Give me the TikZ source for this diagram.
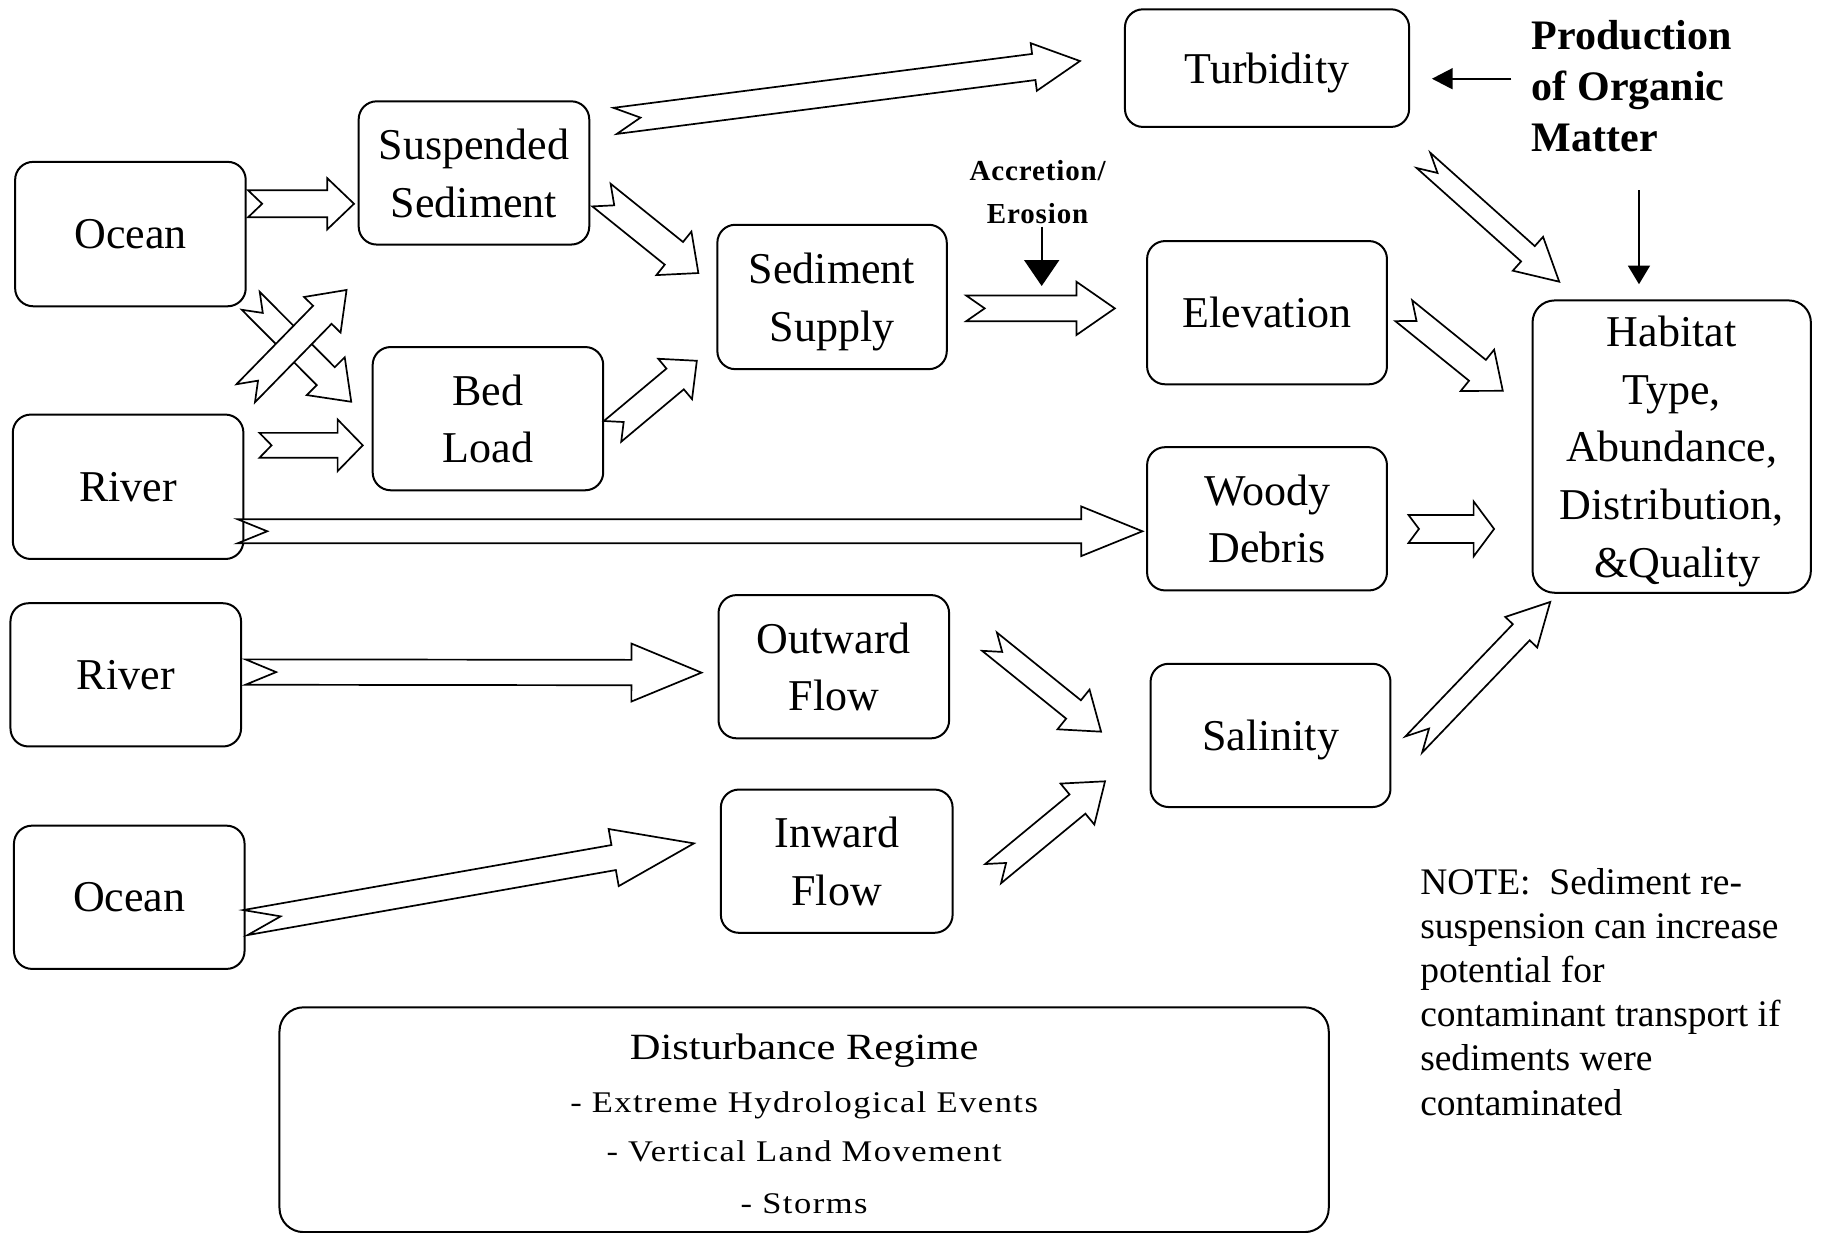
\documentclass[tikz,border=0pt]{standalone}
\usepackage{fontspec}
\setmainfont{Liberation Serif}
\newfontfamily\accfont{Liberation Serif}[LetterSpace=3]
\newfontfamily\distfont{Liberation Serif}[FakeStretch=1.15]
\newfontfamily\distitemfont{Liberation Serif}[FakeStretch=1.15,LetterSpace=5]
\usetikzlibrary{calc,arrows.meta}

% Notched block arrow from tail coordinate #1 to tip coordinate #2.
% #3 = shaft half width, #4 = head half width, #5 = head length (drawing units).
\newcommand{\notcharrow}[5]{%
  \path let \p1=(#1), \p2=(#2) in \pgfextra{%
    \pgfmathsetmacro\naAng{atan2(\y2-\y1,\x2-\x1)}%
    \pgfmathsetmacro\naLen{veclen(\x2-\x1,\y2-\y1)}%
    \pgfmathsetmacro\naW{#3*1.1645}%
    \pgfmathsetmacro\naH{#4*1.1645}%
    \pgfmathsetmacro\naB{\naLen-#5*1.1645}%
    \pgfmathsetmacro\naN{\naW*#5*1.1645/\naH}%
    \xdef\naAng{\naAng}\xdef\naLen{\naLen}\xdef\naW{\naW}%
    \xdef\naH{\naH}\xdef\naB{\naB}\xdef\naN{\naN}%
    \xdef\naX{\x1}\xdef\naY{\y1}};
  \draw[flowarrow, shift={(\naX,\naY)}, rotate=\naAng]
    (0pt,\naW pt) -- (\naB pt,\naW pt) -- (\naB pt,\naH pt) -- (\naLen pt,0pt)
    -- (\naB pt,-\naH pt) -- (\naB pt,-\naW pt) -- (0pt,-\naW pt) -- (\naN pt,0pt) -- cycle;
}

\tikzset{
  box/.style={draw, line width=2pt, rounded corners=18pt, fill=white, align=center,
    inner sep=0pt, text depth=0pt, font=\fontsize{44}{57.6}\selectfont},
  bsize/.style 2 args={minimum width=#1*1.1645pt, minimum height=#2*1.1645pt},
  flowarrow/.style={line width=1.7pt, fill=white, line join=miter},
  thinline/.style={line width=2pt},
  prodtext/.style={anchor=base west, inner sep=0pt, font=\bfseries\fontsize{42}{50}\selectfont},
  acctext/.style={anchor=base, inner sep=0pt, font=\accfont\bfseries\fontsize{29}{34}\selectfont},
  notetext/.style={anchor=base west, inner sep=0pt, font=\fontsize{37.5}{45}\selectfont},
  disttitle/.style={anchor=base, inner sep=0pt, font=\distfont\fontsize{37}{44}\selectfont},
  distitem/.style={anchor=base, inner sep=0pt, font=\distitemfont\fontsize{30}{36}\selectfont},
}

\begin{document}
\begin{tikzpicture}[x=1.1645pt, y=-1.1645pt]
\fill[white] (0,0) rectangle (1568,1058);
\useasboundingbox (0,0) rectangle (1568,1058);

% ---- boxes ----
\node[box, bsize={198}{124}] (ocA) at (112,201) {Ocean};
\node[box, bsize={198}{123}] (susp) at (407,148.5) {Suspended\\Sediment};
\node[box, bsize={198}{123}] (bed) at (419,359.5) {Bed\\Load};
\node[box, bsize={198}{124}] (rivA) at (110,418) {River};
\node[box, bsize={197}{124}] (supply) at (714.5,255) {Sediment\\Supply};
\node[box, bsize={244}{101}] (turb) at (1088,58.5) {Turbidity};
\node[box, bsize={206}{123}] (elev) at (1088,268.5) {Elevation};
\node[box, bsize={206}{123}] (woody) at (1088,445.5) {Woody\\Debris};
\node[box, bsize={239}{251}, rounded corners=22pt] (hab) at (1435.5,383.5)
  {Habitat\\Type,\\Abundance,\\Distribution,\\\ \&Quality};
\node[box, bsize={198}{123}] (rivB) at (108,579.5) {River};
\node[box, bsize={198}{123}] (outw) at (716,572.5) {Outward\\Flow};
\node[box, bsize={206}{123}] (sal) at (1091,631.5) {Salinity};
\node[box, bsize={198}{123}] (ocB) at (111,770.5) {Ocean};
\node[box, bsize={199}{123}] (inw) at (718.5,739.5) {Inward\\Flow};
\node[box, bsize={901}{193}, rounded corners=24pt] (dist) at (690.5,961.5) {};

% ---- disturbance text ----
\node[disttitle] (distT) at (690.5,909.4) {Disturbance Regime};
\node[distitem] (distA) at (690.5,955.5) {- Extreme Hydrological Events};
\node[distitem] (distB) at (690.5,997.6) {- Vertical Land Movement};
\node[distitem] (distC) at (690.5,1041.7) {- Storms};

% ---- free labels ----
\node[prodtext] (prodA) at (1315.3,42.9) {Production};
\node[prodtext] (prodB) at (1315.3,85.9) {of Organic};
\node[prodtext] (prodC) at (1315.3,130.2) {Matter};
\node[acctext] (accA) at (891,154.6) {Accretion/};
\node[acctext] (accB) at (891,191.8) {Erosion};

\node[notetext] (noteA) at (1219.4,767.7) {NOTE:\ \ Sediment re-};
\node[notetext] (noteB) at (1219.4,805.8) {suspension can increase};
\node[notetext] (noteC) at (1219.4,843.5) {potential for};
\node[notetext] (noteD) at (1219.4,881.7) {contaminant transport if};
\node[notetext] (noteE) at (1219.4,919.5) {sediments were};
\node[notetext] (noteF) at (1219.4,957.5) {contaminated};

% ---- arrow end points ----
\coordinate (a1s) at (213,175);      \coordinate (a1e) at (304,175);
\coordinate (a2s) at (528.2,103.8);  \coordinate (a2e) at (927.4,52.4);
\coordinate (a3s) at (516.5,167.5);  \coordinate (a3e) at (600,234.7);
\coordinate (a4s) at (215.3,258.3);  \coordinate (a4e) at (301.6,345);
\coordinate (a5s) at (211,337.7);    \coordinate (a5e) at (297.6,249);
\coordinate (a6s) at (222.8,382.4);  \coordinate (a6e) at (311.5,382.4);
\coordinate (a7s) at (526,370.4);    \coordinate (a7e) at (598.5,309.7);
\coordinate (a8s) at (829.7,264.8);  \coordinate (a8e) at (957.3,264.8);
\coordinate (a9s) at (204,456.2);    \coordinate (a9e) at (981,456.2);
\coordinate (a10s) at (1222.3,137.7); \coordinate (a10e) at (1338.9,241.9);
\coordinate (a11s) at (1205.4,266.8); \coordinate (a11e) at (1290.7,335.8);
\coordinate (a12s) at (1209.5,454.2); \coordinate (a12e) at (1283,454.2);
\coordinate (a13s) at (210.8,577.1);  \coordinate (a13e) at (602.4,577.6);
\coordinate (a14s) at (210.8,792.2);  \coordinate (a14e) at (595.9,724.2);
\coordinate (a15s) at (849.7,551);    \coordinate (a15e) at (945.5,628.3);
\coordinate (a16s) at (852.8,750.2);  \coordinate (a16e) at (948.9,670.9);
\coordinate (a17s) at (1214,639.3);   \coordinate (a17e) at (1331.2,516.9);

% ---- block arrows ----
\notcharrow{a1s}{a1e}{11.6}{22}{23}
\notcharrow{a2s}{a2e}{11.3}{20.6}{40}
\notcharrow{a3s}{a3e}{12.5}{24}{27}
\notcharrow{a4s}{a4e}{10.9}{23}{31}
\notcharrow{a5s}{a5e}{11.1}{21.9}{29.8}
\notcharrow{a6s}{a6e}{10.7}{22.2}{21.6}
\notcharrow{a7s}{a7e}{11.6}{22.6}{24.3}
\notcharrow{a8s}{a8e}{11}{22.9}{33}
\notcharrow{a9s}{a9e}{10.35}{21.3}{52.5}
\notcharrow{a10s}{a10e}{8.8}{19.5}{36}
\notcharrow{a11s}{a11e}{11.5}{22.8}{28}
\notcharrow{a12s}{a12e}{12}{23.6}{17.6}
\notcharrow{a13s}{a13e}{10.9}{24.9}{60.2}
\notcharrow{a14s}{a14e}{10.9}{24.9}{70}
\notcharrow{a15s}{a15e}{10.1}{21.9}{30.4}
\notcharrow{a16s}{a16e}{10.7}{22.8}{30.7}
\notcharrow{a17s}{a17e}{10}{19}{36}

% ---- thin arrows ----
\coordinate (pt1) at (1297.9,67.6);  \coordinate (pt2) at (1229.6,67.6);
\coordinate (ph1) at (1407.4,163.3); \coordinate (ph2) at (1407.4,244.1);
\coordinate (ae1) at (894.5,194.7);  \coordinate (ae2) at (894.5,245.6);
\draw[thinline, -{Triangle[length=20.8pt, width=21pt]}] (pt1) -- (pt2);
\draw[thinline, -{Triangle[length=18.6pt, width=21.8pt]}] (ph1) -- (ph2);
\draw[thinline, -{Triangle[length=26pt, width=35pt]}] (ae1) -- (ae2);
\end{tikzpicture}
\end{document}
